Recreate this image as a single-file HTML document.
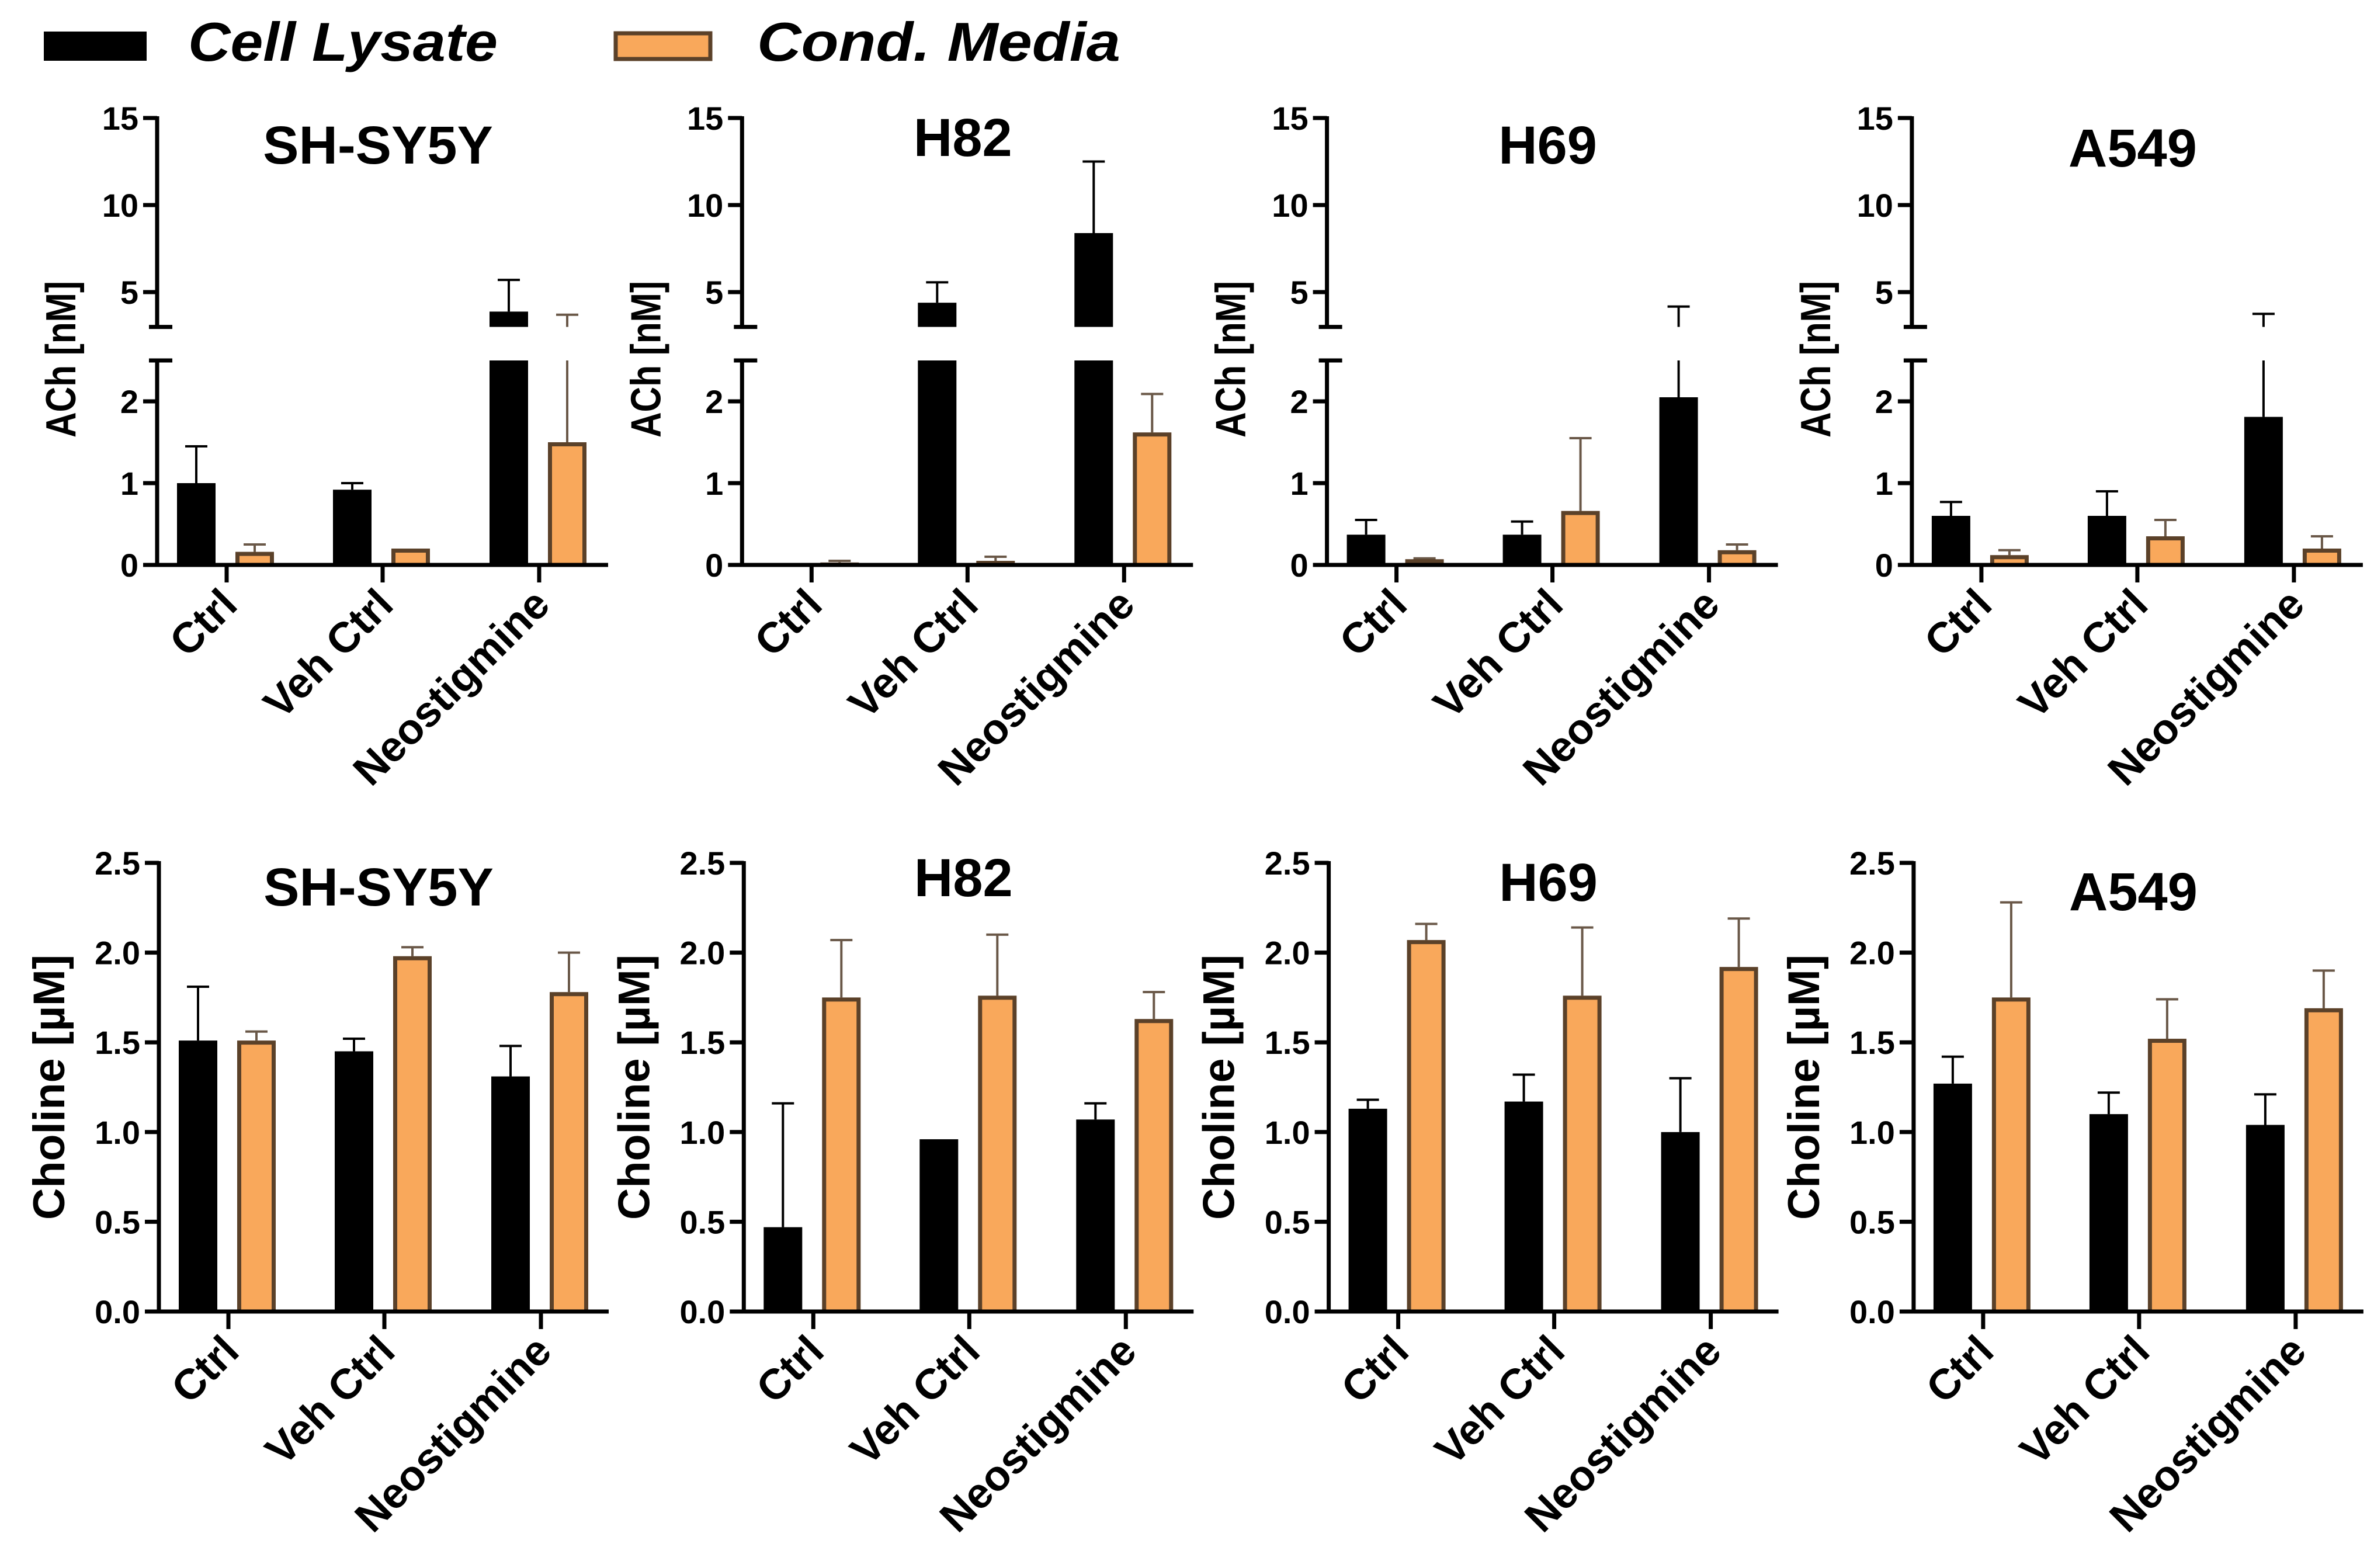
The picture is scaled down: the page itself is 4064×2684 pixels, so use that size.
<!DOCTYPE html>
<html><head><meta charset="utf-8"><style>
html,body{margin:0;padding:0;background:#fff}
svg{display:block}
text{font-family:"Liberation Sans",Arial,sans-serif;font-weight:bold;fill:#000}
</style></head><body>
<svg id="fig" width="4064" height="2684" viewBox="0 0 4064 2684" xmlns="http://www.w3.org/2000/svg">
<g>
<rect x="75" y="54" width="176" height="50" fill="#000"/>
<text x="322" y="104" font-size="94" font-style="italic" textLength="530" lengthAdjust="spacingAndGlyphs">Cell Lysate</text>
<rect x="1054" y="57" width="162" height="44" fill="#f9a85b" stroke="#5b4129" stroke-width="7"/>
<text x="1296" y="104" font-size="94" font-style="italic" textLength="622" lengthAdjust="spacingAndGlyphs">Cond. Media</text>
</g>
</svg>
<script>
const NS="http://www.w3.org/2000/svg";
const svg=document.getElementById('fig');
const categories=["Ctrl","Veh Ctrl","Neostigmine"];
const cellLines=["SH-SY5Y","H82","H69","A549"];
// ACh [nM] values
const achLysate=[[1.0,0.92,3.88],[0.0,4.39,8.39],[0.37,0.37,2.05],[0.6,0.6,1.81]];
const achLysateErr=[[1.45,1.0,5.7],[0.0,5.56,12.5],[0.55,0.53,4.17],[0.77,0.9,3.75]];
const achMedia=[[0.16,0.2,1.5],[0.03,0.05,1.62],[0.07,0.66,0.18],[0.12,0.35,0.2]];
const achMediaErr=[[0.25,0.2,3.7],[0.05,0.1,2.09],[0.08,1.55,0.25],[0.18,0.55,0.35]];
// Choline [uM] values
const chLysate=[[1.51,1.45,1.31],[0.47,0.96,1.07],[1.13,1.17,1.0],[1.27,1.10,1.04]];
const chLysateErr=[[1.81,1.52,1.48],[1.16,0.96,1.16],[1.18,1.32,1.3],[1.42,1.22,1.21]];
const chMedia=[[1.51,1.98,1.78],[1.75,1.76,1.63],[2.07,1.76,1.92],[1.75,1.52,1.69]];
const chMediaErr=[[1.56,2.03,2.0],[2.07,2.1,1.78],[2.16,2.14,2.19],[2.28,1.74,1.9]];
const achTicksLow=[0,1,2];
const achTicksHigh=[5,10,15];
const chTicks=["0.0","0.5","1.0","1.5","2.0","2.5"];
const topTitleY=[280,267,280,285];
const botTitleY=[1550,1534,1542,1558];

function el(tag,attrs,parent){const e=document.createElementNS(NS,tag);for(const k in attrs)e.setAttribute(k,attrs[k]);(parent||svg).appendChild(e);return e;}
function txt(s,attrs,parent){const e=el('text',attrs,parent);e.textContent=s;return e;}

const LOW0=967, LOWK=140, HIGH5=500, HIGHK=29.8;
function yLow(v){return LOW0-LOWK*Math.min(v,2.5);}
function yHigh(v){return HIGH5-(Math.max(v,3)-5)*HIGHK;}
const CH0=2245, CHK=307.2;
function yCh(v){return CH0-CHK*v;}

const BW=66, OFFB=-52, OFFO=48, GROUPS=[119,386,654];
const LBLFONT=73, TICKFONT=56, TITLEFONT=92;

for(let p=0;p<4;p++){
  const ax=269+p*1001.3;
  const g=el('g',{});
  
  
  const t=txt(cellLines[p],{x:ax+378,y:topTitleY[p],'font-size':TITLEFONT,'text-anchor':'middle'},g);
  
  
  const yt=txt('ACh [nM]',{x:0,y:0,'font-size':72,'text-anchor':'middle',textLength:268,lengthAdjust:'spacingAndGlyphs',transform:`translate(${ax-140},615) rotate(-90)`},g);
  
  
  for(let c=0;c<3;c++){
    const cx=ax+GROUPS[c];
    [[achLysate,achLysateErr,OFFB,'#000','#000'],[achMedia,achMediaErr,OFFO,'#f9a85b','#6a5848']].forEach((s,si)=>{
      const v=s[0][p][c], e=s[1][p][c], x=cx+s[2]-BW/2;
      if(e>v){
        const lo=v, hi=e;
        if(lo<2.5) el('line',{x1:x+BW/2,x2:x+BW/2,y1:yLow(lo),y2:yLow(Math.min(hi,2.5)),stroke:s[4],'stroke-width':4},g);
        if(hi>3) el('line',{x1:x+BW/2,x2:x+BW/2,y1:yHigh(Math.max(lo,3)),y2:yHigh(hi),stroke:s[4],'stroke-width':4},g);
        const cy=hi<=2.5?yLow(hi):(hi>=3?yHigh(hi):null);
        if(cy!==null) el('line',{x1:x+BW/2-19,x2:x+BW/2+19,y1:cy,y2:cy,stroke:s[4],'stroke-width':4},g);
      }
      const parts=[];
      if(v>0) parts.push([yLow(v),LOW0]);
      if(v>3) parts.push([yHigh(v),yHigh(3)]);
      parts.forEach(pt=>{
        let r;
        if(si===0) r=el('rect',{x:x,y:pt[0],width:BW,height:Math.max(pt[1]-pt[0],0),fill:'#000'},g);
        else r=el('rect',{x:x+3.5,y:pt[0]+3.5,width:BW-7,height:Math.max(pt[1]-pt[0]-3.5,0),fill:'#f9a85b',stroke:'#5b4129','stroke-width':7},g);
        
        
      });
    });
  }
  el('line',{x1:ax,x2:ax,y1:yLow(2.5),y2:LOW0+3,stroke:'#000','stroke-width':7},g);
  el('line',{x1:ax,x2:ax,y1:yHigh(15)-3,y2:yHigh(3),stroke:'#000','stroke-width':7},g);
  el('line',{x1:ax-14,x2:ax+26,y1:yLow(2.5),y2:yLow(2.5),stroke:'#000','stroke-width':7},g);
  el('line',{x1:ax-14,x2:ax+26,y1:yHigh(3),y2:yHigh(3),stroke:'#000','stroke-width':7},g);
  el('line',{x1:ax,x2:ax+772,y1:LOW0,y2:LOW0,stroke:'#000','stroke-width':7},g);
  achTicksLow.forEach(v=>{
    el('line',{x1:ax-24,x2:ax,y1:yLow(v),y2:yLow(v),stroke:'#000','stroke-width':7},g);
    txt(String(v),{x:ax-32,y:yLow(v)+20,'font-size':TICKFONT,'text-anchor':'end'},g);
  });
  achTicksHigh.forEach(v=>{
    el('line',{x1:ax-24,x2:ax,y1:yHigh(v),y2:yHigh(v),stroke:'#000','stroke-width':7},g);
    txt(String(v),{x:ax-32,y:yHigh(v)+20,'font-size':TICKFONT,'text-anchor':'end'},g);
  });
  categories.forEach((cat,c)=>{
    const cx=ax+GROUPS[c];
    el('line',{x1:cx,x2:cx,y1:LOW0,y2:LOW0+30,stroke:'#000','stroke-width':7},g);
    const l=txt(cat,{x:0,y:0,'font-size':LBLFONT,'text-anchor':'end',transform:`translate(${cx+22},${LOW0+72}) rotate(-45)`},g);
    
    
  });

  const bx=272+p*1001.3;
  const h=el('g',{});
  
  
  const t2=txt(cellLines[p],{x:bx+376,y:botTitleY[p],'font-size':TITLEFONT,'text-anchor':'middle'},h);
  
  
  const yt2=txt('Choline [µM]',{x:0,y:0,'font-size':76,'text-anchor':'middle',textLength:454,lengthAdjust:'spacingAndGlyphs',transform:`translate(${bx-162},${yCh(1.25)}) rotate(-90)`},h);
  
  
  for(let c=0;c<3;c++){
    const cx=bx+GROUPS[c];
    [[chLysate,chLysateErr,OFFB,'#000'],[chMedia,chMediaErr,OFFO,'#6a5848']].forEach((s,si)=>{
      const v=s[0][p][c], e=s[1][p][c], x=cx+s[2]-BW/2;
      if(e>v){
        el('line',{x1:x+BW/2,x2:x+BW/2,y1:yCh(v),y2:yCh(e),stroke:s[3],'stroke-width':4},h);
        el('line',{x1:x+BW/2-19,x2:x+BW/2+19,y1:yCh(e),y2:yCh(e),stroke:s[3],'stroke-width':4},h);
      }
      let r;
      if(si===0) r=el('rect',{x:x,y:yCh(v),width:BW,height:CHK*v,fill:'#000'},h);
      else r=el('rect',{x:x+3.5,y:yCh(v)+3.5,width:BW-7,height:CHK*v-3.5,fill:'#f9a85b',stroke:'#5b4129','stroke-width':7},h);
      
      
    });
  }
  el('line',{x1:bx,x2:bx,y1:yCh(2.5)-3,y2:CH0+3,stroke:'#000','stroke-width':7},h);
  el('line',{x1:bx,x2:bx+770,y1:CH0,y2:CH0,stroke:'#000','stroke-width':7},h);
  chTicks.forEach(s=>{
    const v=parseFloat(s);
    el('line',{x1:bx-24,x2:bx,y1:yCh(v),y2:yCh(v),stroke:'#000','stroke-width':7},h);
    txt(s,{x:bx-32,y:yCh(v)+20,'font-size':TICKFONT,'text-anchor':'end'},h);
  });
  categories.forEach((cat,c)=>{
    const cx=bx+GROUPS[c];
    el('line',{x1:cx,x2:cx,y1:CH0,y2:CH0+30,stroke:'#000','stroke-width':7},h);
    const l=txt(cat,{x:0,y:0,'font-size':LBLFONT,'text-anchor':'end',transform:`translate(${cx+22},${CH0+72}) rotate(-45)`},h);
    
    
  });
}
</script>
</body></html>
